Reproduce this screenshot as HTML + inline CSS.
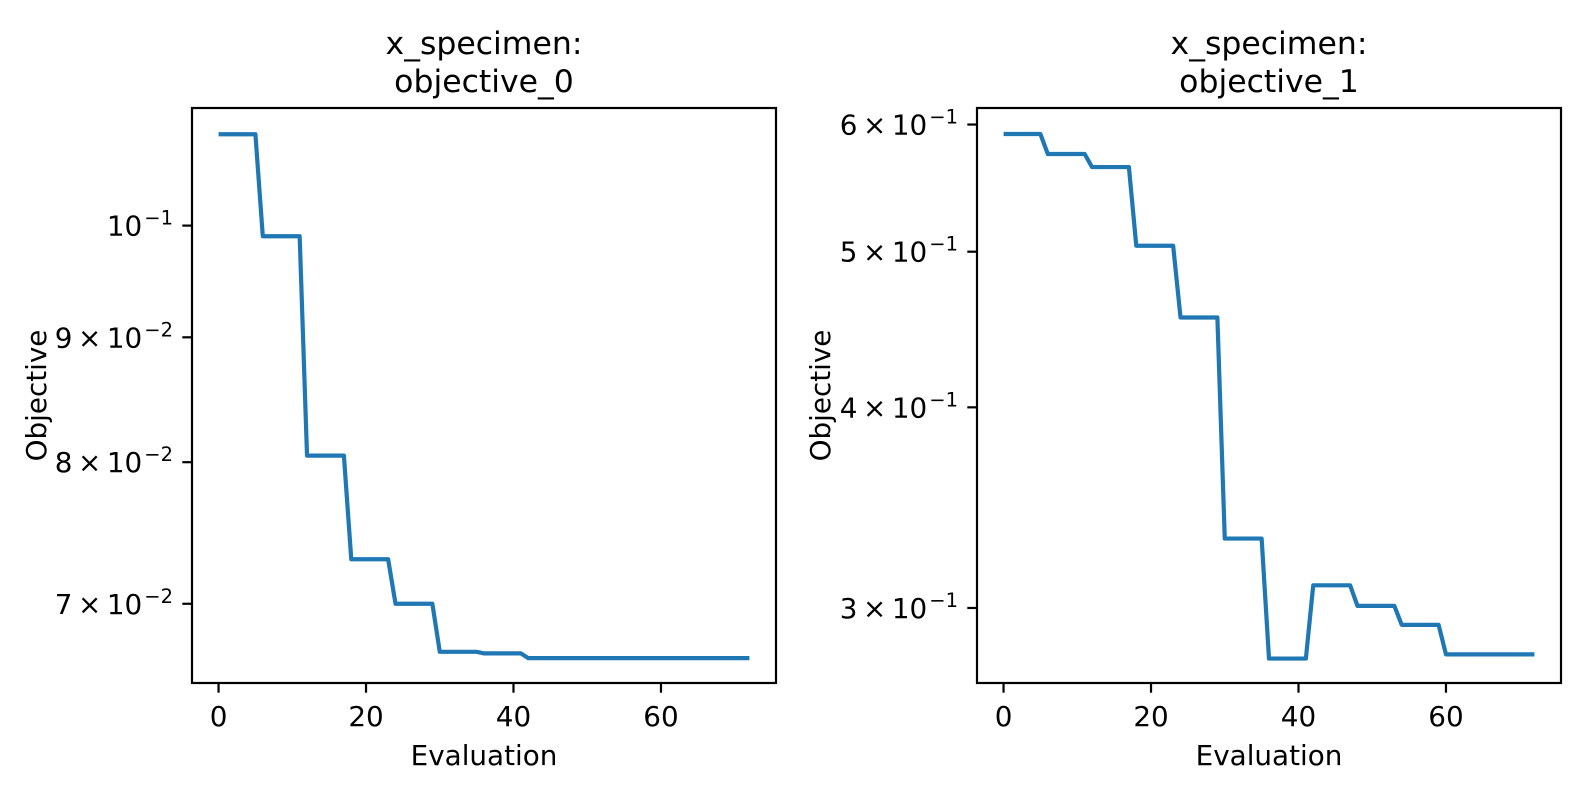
<!DOCTYPE html>
<html><head><meta charset="utf-8"><style>
html,body{margin:0;padding:0;background:#fff;}
svg{display:block;font-family:"DejaVu Sans","Liberation Sans",sans-serif;}
</style></head><body>
<svg id="fig" width="1587" height="795" viewBox="0 0 1587 795" xmlns="http://www.w3.org/2000/svg">
<rect x="0" y="0" width="1587" height="795" fill="#fff"/>
</svg>
<script>
const evals = Array.from({length:73},(_,i)=>i);
const obj0Values = [0.1090,0.1090,0.1090,0.1090,0.1090,0.1090,
 0.0990,0.0990,0.0990,0.0990,0.0990,0.0990,
 0.0805,0.0805,0.0805,0.0805,0.0805,0.0805,
 0.0730,0.0730,0.0730,0.0730,0.0730,0.0730,
 0.0700,0.0700,0.0700,0.0700,0.0700,0.0700,
 0.0669,0.0669,0.0669,0.0669,0.0669,0.0669,
 0.0668,0.0668,0.0668,0.0668,0.0668,0.0668,
 0.0665,0.0665,0.0665,0.0665,0.0665,0.0665,
 0.0665,0.0665,0.0665,0.0665,0.0665,0.0665,0.0665,0.0665,0.0665,0.0665,0.0665,0.0665,
 0.0665,0.0665,0.0665,0.0665,0.0665,0.0665,0.0665,0.0665,0.0665,0.0665,0.0665,0.0665,0.0665];
const obj1Values = [0.5919,0.5919,0.5919,0.5919,0.5919,0.5919,
 0.5752,0.5752,0.5752,0.5752,0.5752,0.5752,
 0.5645,0.5645,0.5645,0.5645,0.5645,0.5645,
 0.5043,0.5043,0.5043,0.5043,0.5043,0.5043,
 0.4550,0.4550,0.4550,0.4550,0.4550,0.4550,
 0.3314,0.3314,0.3314,0.3314,0.3314,0.3314,
 0.2790,0.2790,0.2790,0.2790,0.2790,0.2790,
 0.3099,0.3099,0.3099,0.3099,0.3099,0.3099,
 0.3009,0.3009,0.3009,0.3009,0.3009,0.3009,
 0.2928,0.2928,0.2928,0.2928,0.2928,0.2928,
 0.2807,0.2807,0.2807,0.2807,0.2807,0.2807,0.2807,0.2807,0.2807,0.2807,0.2807,0.2807,0.2807];
const xTicks = [0,20,40,60];
const yTicks0 = [0.1,0.09,0.08,0.07];
const yTickLabels0 = [["10","−1"],["9\u2009×\u200910","−2"],["8\u2009×\u200910","−2"],["7\u2009×\u200910","−2"]];
const yTicks1 = [0.6,0.5,0.4,0.3];
const yTickLabels1 = [["6\u2009×\u200910","−1"],["5\u2009×\u200910","−1"],["4\u2009×\u200910","−1"],["3\u2009×\u200910","−1"]];
const titles0 = ["x_specimen:","objective_0"];
const titles1 = ["x_specimen:","objective_1"];

const NS="http://www.w3.org/2000/svg";
const svg=document.getElementById('fig');
function mk(tag,attrs,parent){const e=document.createElementNS(NS,tag);for(const k in attrs)e.setAttribute(k,attrs[k]);(parent||svg).appendChild(e);return e;}

function panel(cfg){
  const {L,T,W,H,xlim,ylim,vals,yTicks,yLabels,titles,id,ylx}=cfg;
  const g=mk('g',{});
  
  
  const xs=v=>L+(v-xlim[0])/(xlim[1]-xlim[0])*W;
  const ys=v=>T+(Math.log10(ylim[1])-Math.log10(v))/(Math.log10(ylim[1])-Math.log10(ylim[0]))*H;
  let d='';
  evals.forEach((x,i)=>{d+=(i?'L':'M')+xs(x).toFixed(2)+','+ys(vals[i]).toFixed(2);});
  const line=mk('path',{d:d,fill:'none',stroke:'#1f77b4','stroke-width':4.2,'stroke-linejoin':'round','stroke-linecap':'butt'},g);
  
  
  const fr=mk('rect',{x:L,y:T,width:W,height:H,fill:'none',stroke:'#000','stroke-width':2.2},g);
  
  
  xTicks.forEach(t=>{
    const x=xs(t);
    mk('line',{x1:x,x2:x,y1:T+H,y2:T+H+9.7,stroke:'#000','stroke-width':2.2},g);
    const tx=mk('text',{x:x,y:T+H+43,'text-anchor':'middle','font-size':27.8,fill:'#000'},g);
    tx.textContent=t;
    
    
  });
  yTicks.forEach((t,i)=>{
    const y=ys(t);
    mk('line',{x1:L,x2:L-9.7,y1:y,y2:y,stroke:'#000','stroke-width':2.2},g);
    const tx=mk('text',{x:L-19,y:y+10,'text-anchor':'end','font-size':27.8,fill:'#000'},g);
    const a=mk('tspan',{},tx);a.textContent=yLabels[i][0];
    const b=mk('tspan',{dy:-11,dx:2,'font-size':19.5},tx);b.textContent=yLabels[i][1];
    
    
  });
  titles.forEach((s,i)=>{
    const tt=mk('text',{x:L+W/2,y:54+i*38,'text-anchor':'middle','font-size':31.5,fill:'#000'},g);
    tt.textContent=s;
    
    
  });
  const xl=mk('text',{x:L+W/2,y:765,'text-anchor':'middle','font-size':27.8,fill:'#000'},g);
  xl.textContent='Evaluation';
  
  
  const yl=mk('text',{x:0,y:0,'text-anchor':'middle','font-size':27.8,fill:'#000',transform:`translate(${ylx},${T+H/2}) rotate(-90)`},g);
  yl.textContent='Objective';
  
  
}
panel({L:192,T:108,W:584,H:575,xlim:[-3.6,75.6],ylim:[0.06496,0.11173],vals:obj0Values,yTicks:yTicks0,yLabels:yTickLabels0,titles:titles0,id:'objective-0',ylx:46});
panel({L:977,T:108,W:584,H:575,xlim:[-3.6,75.6],ylim:[0.2694,0.6144],vals:obj1Values,yTicks:yTicks1,yLabels:yTickLabels1,titles:titles1,id:'objective-1',ylx:830});
</script>
</body></html>
